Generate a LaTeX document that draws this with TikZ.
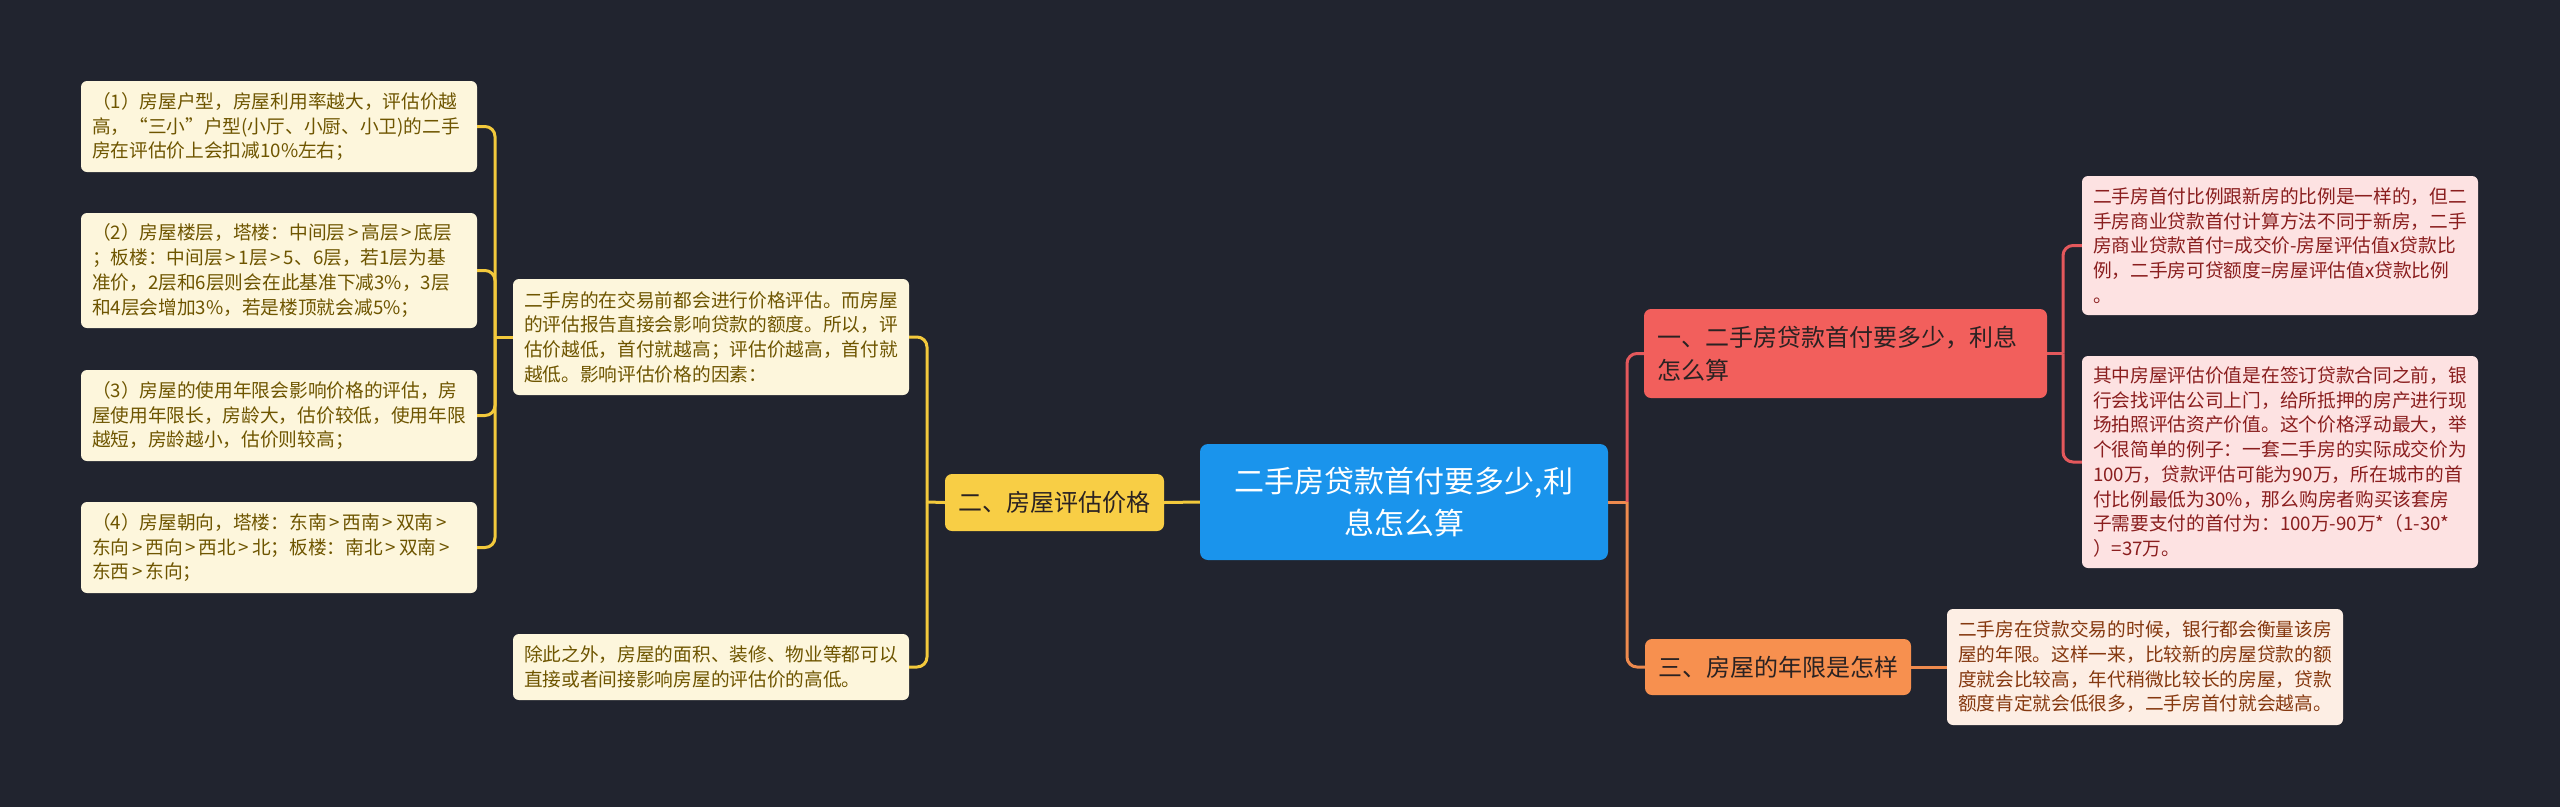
\documentclass[tikz,border=0pt]{standalone}
\usepackage{fontspec}
\setmainfont{Noto Sans CJK SC}
\definecolor{bg}{HTML}{21242F}
\definecolor{cblue}{HTML}{1A94EC}
\definecolor{cyel}{HTML}{F8CE45}
\definecolor{lyel}{HTML}{F3C93C}
\definecolor{cred}{HTML}{F25F5C}
\definecolor{lred}{HTML}{E4585C}
\definecolor{cora}{HTML}{F7904F}
\definecolor{lora}{HTML}{EE8A4E}
\definecolor{leafy}{HTML}{FDF6DC}
\definecolor{leafyt}{HTML}{6E5500}
\definecolor{leafp}{HTML}{FDE2E2}
\definecolor{leafpt}{HTML}{8A1E1E}
\definecolor{leafo}{HTML}{FDEEE4}
\definecolor{leafot}{HTML}{85380F}
\definecolor{darktxt}{HTML}{2A2222}
\newcommand{\gtsym}{\kern0.15em>\kern0.15em}
\begin{document}
\begin{tikzpicture}[x=1pt,y=-1pt,
  leafbase/.style={rounded corners=6pt, minimum width=396pt, text width=374pt, inner xsep=11pt, inner ysep=0pt, align=left, font={\fontsize{18.7}{24.7}\selectfont}},
  leafY/.style={leafbase, fill=leafy, text=leafyt},
  leafP/.style={leafbase, fill=leafp, text=leafpt},
  leafO/.style={leafbase, fill=leafo, text=leafot},
  branch/.style={rounded corners=7pt, inner xsep=13pt, inner ysep=0pt, align=left, text=darktxt, font={\fontsize{24}{33}\selectfont}},
  conn/.style={line width=3pt, rounded corners=10pt},
]
\fill[bg] (0,0) rectangle (2560,807);
\useasboundingbox (0,0) rectangle (2560,807);

% center
\node[fill=cblue, rounded corners=8pt, minimum width=408pt, minimum height=116pt, text=white, align=center, font={\fontsize{30}{42}\selectfont}] (C) at (1404,502) {二手房贷款首付要多少,利\\息怎么算};

% branches
\node[branch, fill=cyel, minimum width=219pt, minimum height=57pt, align=center] (Yb) at (1054.5,502.5) {二、房屋评估价格};
\node[branch, fill=cred, minimum width=403pt, text width=377pt, minimum height=89pt] (Rb) at (1845.5,353.5) {一、二手房贷款首付要多少，利息\\怎么算};
\node[branch, fill=cora, minimum width=266pt, minimum height=56pt, align=center] (Ob) at (1778,667) {三、房屋的年限是怎样};

% left leaves
\node[leafY, minimum height=91pt] (L1) at (279,126.5) {（1）房屋户型，房屋利用率越大，评估价越\\高，“三小”户型(小厅、小厨、小卫)的二手\\房在评估价上会扣减10\%左右；};
\node[leafY, minimum height=115pt] (L2) at (279,270.5) {（2）房屋楼层，塔楼：中间层\gtsym 高层\gtsym 底层\\；板楼：中间层\gtsym 1层\gtsym 5、6层，若1层为基\\准价，2层和6层则会在此基准下减3\%，3层\\和4层会增加3\%，若是楼顶就会减5\%；};
\node[leafY, minimum height=91pt] (L3) at (279,415.5) {（3）房屋的使用年限会影响价格的评估，房\\屋使用年限长，房龄大，估价较低，使用年限\\越短，房龄越小，估价则较高；};
\node[leafY, minimum height=91pt] (L4) at (279,547.5) {（4）房屋朝向，塔楼：东南\gtsym 西南\gtsym 双南\gtsym\\东向\gtsym 西向\gtsym 西北\gtsym 北；板楼：南北\gtsym 双南\gtsym\\东西\gtsym 东向；};
\node[leafY, minimum height=116pt] (M1) at (711,337) {二手房的在交易前都会进行价格评估。而房屋\\的评估报告直接会影响贷款的额度。所以，评\\估价越低，首付就越高；评估价越高，首付就\\越低。影响评估价格的因素：};
\node[leafY, minimum height=66pt] (M2) at (711,667) {除此之外，房屋的面积、装修、物业等都可以\\直接或者间接影响房屋的评估价的高低。};

% right leaves
\node[leafP, minimum height=139pt] (R1) at (2280,245.5) {二手房首付比例跟新房的比例是一样的，但二\\手房商业贷款首付计算方法不同于新房，二手\\房商业贷款首付=成交价-房屋评估值x贷款比\\例，二手房可贷额度=房屋评估值x贷款比例\\。};
\node[leafP, minimum height=212pt] (R2) at (2280,462) {其中房屋评估价值是在签订贷款合同之前，银\\行会找评估公司上门，给所抵押的房产进行现\\场拍照评估资产价值。这个价格浮动最大，举\\个很简单的例子：一套二手房的实际成交价为\\100万，贷款评估可能为90万，所在城市的首\\付比例最低为30\%，那么购房者购买该套房\\子需要支付的首付为：100万-90万*（1-30*\\）=37万。};
\node[leafO, minimum height=116pt] (R3) at (2145,667) {二手房在贷款交易的时候，银行都会衡量该房\\屋的年限。这样一来，比较新的房屋贷款的额\\度就会比较高，年代稍微比较长的房屋，贷款\\额度肯定就会低很多，二手房首付就会越高。};

% junctions
\coordinate (yj) at (927,502);
\coordinate (mj) at (495,337);
\coordinate (cj) at (1627,502);
\coordinate (rj) at (2063,353.5);

% connectors
\draw[conn, lyel] (C.west) -- (Yb.east);
\draw[conn, lyel] (Yb.west) -- (yj);
\draw[conn, lyel] (yj) |- (M1.east);
\draw[conn, lyel] (yj) |- (M2.east);
\draw[conn, lyel] (M1.west) -- (mj);
\draw[conn, lyel] (mj) |- (L1.east);
\draw[conn, lyel] (mj) |- (L2.east);
\draw[conn, lyel] (mj) |- (L3.east);
\draw[conn, lyel] (mj) |- (L4.east);

\draw[conn, lora] (C.east) -- (cj);
\draw[conn, lred] (cj) |- (Rb.west);
\draw[conn, lora] (cj) |- (Ob.west);
\draw[conn, lred] (Rb.east) -- (rj);
\draw[conn, lred] (rj) |- (R1.west);
\draw[conn, lred] (rj) |- (R2.west);
\draw[conn, lora] (Ob.east) -- (R3.west);
\end{tikzpicture}
\end{document}
